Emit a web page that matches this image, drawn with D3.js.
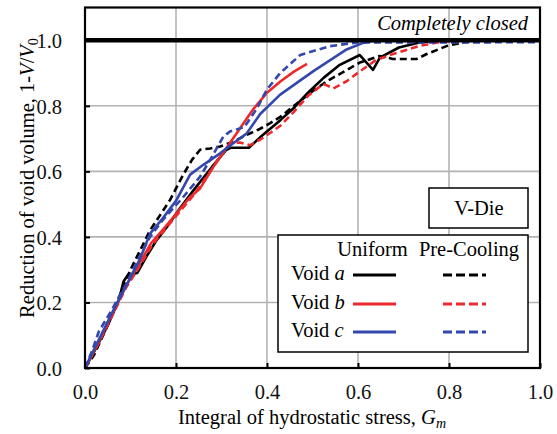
<!DOCTYPE html>
<html><head><meta charset="utf-8">
<script src="https://cdn.jsdelivr.net/npm/d3@7"></script>
<style>body{margin:0;background:#fff}svg{display:block}</style>
</head><body><svg id="c" width="557" height="434"></svg>
<script>
const xTicks = [0, 0.2, 0.4, 0.6, 0.8, 1.0];
const yTicks = [0, 0.2, 0.4, 0.6, 0.8, 1.0];
const seriesNames = ["Void a", "Void b", "Void c"];
const conditions = ["Uniform", "Pre-Cooling"];
const closedLevel = 1.0;

const aUniform = [[0,0],[0.02,0.05],[0.05,0.13],[0.075,0.21],[0.085,0.265],[0.095,0.285],[0.115,0.29],[0.135,0.34],[0.155,0.385],[0.18,0.43],[0.21,0.49],[0.24,0.545],[0.28,0.615],[0.31,0.665],[0.32,0.672],[0.36,0.672],[0.39,0.71],[0.43,0.757],[0.46,0.795],[0.49,0.84],[0.525,0.886],[0.56,0.925],[0.604,0.955],[0.633,0.91],[0.648,0.947],[0.69,0.978],[0.735,0.993],[0.78,1.0],[1.0,1.0]];
const aPreCool = [[0,0],[0.02,0.04],[0.045,0.115],[0.07,0.2],[0.1,0.3],[0.143,0.42],[0.187,0.513],[0.216,0.59],[0.235,0.635],[0.253,0.666],[0.275,0.67],[0.297,0.676],[0.325,0.69],[0.355,0.711],[0.385,0.73],[0.407,0.747],[0.43,0.767],[0.473,0.815],[0.505,0.85],[0.538,0.88],[0.57,0.905],[0.604,0.932],[0.648,0.952],[0.677,0.943],[0.729,0.943],[0.751,0.958],[0.796,0.983],[0.83,0.993],[0.86,1.0],[1.0,1.0]];
const bUniform = [[0,0],[0.03,0.08],[0.06,0.165],[0.09,0.25],[0.12,0.32],[0.145,0.38],[0.17,0.42],[0.2,0.47],[0.23,0.52],[0.253,0.548],[0.285,0.62],[0.319,0.687],[0.345,0.74],[0.37,0.79],[0.4,0.84],[0.43,0.875],[0.46,0.905],[0.488,0.928]];
const bPreCool = [[0,0],[0.03,0.075],[0.06,0.16],[0.09,0.245],[0.12,0.31],[0.15,0.38],[0.18,0.43],[0.21,0.48],[0.24,0.53],[0.27,0.59],[0.3,0.65],[0.319,0.685],[0.34,0.688],[0.363,0.68],[0.385,0.697],[0.41,0.72],[0.43,0.74],[0.458,0.78],[0.49,0.83],[0.524,0.867],[0.546,0.853],[0.575,0.875],[0.604,0.905],[0.64,0.94],[0.677,0.958],[0.736,0.983],[0.774,0.993],[0.82,1.0],[1.0,1.0]];
const cUniform = [[0,0],[0.03,0.085],[0.06,0.17],[0.09,0.25],[0.12,0.33],[0.143,0.41],[0.17,0.455],[0.2,0.51],[0.231,0.59],[0.26,0.62],[0.297,0.655],[0.325,0.685],[0.355,0.715],[0.385,0.775],[0.429,0.834],[0.502,0.906],[0.575,0.972],[0.611,0.992],[0.64,1.0],[1.0,1.0]];
const cPreCool = [[0,0],[0.015,0.05],[0.03,0.11],[0.06,0.18],[0.09,0.255],[0.12,0.34],[0.143,0.4],[0.17,0.45],[0.215,0.52],[0.253,0.584],[0.275,0.635],[0.304,0.706],[0.319,0.722],[0.35,0.735],[0.377,0.79],[0.4,0.85],[0.429,0.9],[0.473,0.955],[0.538,0.982],[0.597,0.993],[1.0,0.994]];

const colors = ["#000000", "#ec2a2c", "#3347ad"];
const series = [
  {data: aUniform, c: 0, dash: false}, {data: aPreCool, c: 0, dash: true},
  {data: bUniform, c: 1, dash: false}, {data: bPreCool, c: 1, dash: true},
  {data: cUniform, c: 2, dash: false}, {data: cPreCool, c: 2, dash: true}
];

const FONT = '"Liberation Serif", Tinos, "DejaVu Serif", serif';
const FS = 20.5;
const svg = d3.select("#c").attr("font-family", FONT);
const L = 85, R = 540, T = 7.5, B = 368;
const x = d3.scaleLinear().domain([0, 1]).range([L, R]);
const y = d3.scaleLinear().domain([0, 1.1]).range([B, T]);

// grid
svg.append("g").selectAll("line").data(xTicks.slice(1, -1)).join("line")
  .attr("x1", d => x(d)).attr("x2", d => x(d)).attr("y1", T).attr("y2", B)
  .attr("stroke", "#b3b3b3").attr("stroke-width", 1.6);
svg.append("g").selectAll("line").data(yTicks.slice(1)).join("line")
  .attr("x1", L).attr("x2", R).attr("y1", d => y(d)).attr("y2", d => y(d))
  .attr("stroke", "#b3b3b3").attr("stroke-width", 1.6);

// axes
const fmt = d3.format(".1f");
const xAxis = svg.append("g").attr("transform", `translate(0,${B})`)
  .call(d3.axisBottom(x).tickValues(xTicks).tickFormat(fmt).tickSizeInner(-5).tickSizeOuter(0).tickPadding(16));
const yAxis = svg.append("g").attr("transform", `translate(${L},0)`)
  .call(d3.axisLeft(y).tickValues(yTicks).tickFormat(fmt).tickSizeInner(-5).tickSizeOuter(0).tickPadding(23));
[xAxis, yAxis].forEach(g => {
  g.attr("font-family", FONT).attr("font-size", FS);
  g.select(".domain").remove();
  g.selectAll(".tick line").attr("stroke", "#000").attr("stroke-width", 2);
  g.selectAll(".tick text").attr("fill", "#111");
});
xAxis.selectAll(".tick text").attr("dy", "0.71em");
yAxis.selectAll(".tick text").attr("dy", "0.36em");

// data lines
const line = d3.line().x(d => x(d[0])).y(d => y(d[1]));
const plot = svg.append("g");
series.forEach(s => {
  plot.append("path").datum(s.data).attr("d", line)
    .attr("fill", "none").attr("stroke", colors[s.c]).attr("stroke-width", 2.6)
    .attr("stroke-linejoin", "round")
    .attr("stroke-dasharray", s.dash ? "7,4" : null);
});

// completely closed line
svg.append("line").attr("x1", L).attr("x2", R).attr("y1", y(closedLevel)).attr("y2", y(closedLevel))
  .attr("stroke", "#000").attr("stroke-width", 4.5);
svg.append("text").attr("x", 528).attr("y", 30).attr("text-anchor", "end")
  .attr("font-size", FS).attr("font-style", "italic").text("Completely closed");

// frame
svg.append("rect").attr("x", L).attr("y", T).attr("width", R - L).attr("height", B - T)
  .attr("fill", "none").attr("stroke", "#000").attr("stroke-width", 2.2);

// V-Die box
svg.append("rect").attr("x", 429).attr("y", 188).attr("width", 99).attr("height", 40)
  .attr("fill", "#fff").attr("stroke", "#000").attr("stroke-width", 1.5);
svg.append("text").attr("x", 479).attr("y", 215).attr("text-anchor", "middle")
  .attr("font-size", FS).text("V-Die");

// legend
const lg = svg.append("g");
lg.append("rect").attr("x", 278).attr("y", 235).attr("width", 250).attr("height", 117)
  .attr("fill", "#fff").attr("stroke", "#000").attr("stroke-width", 1.5);
lg.append("text").attr("x", 372.5).attr("y", 256).attr("text-anchor", "middle").attr("font-size", FS).text(conditions[0]);
lg.append("text").attr("x", 469).attr("y", 256).attr("text-anchor", "middle").attr("font-size", FS).text(conditions[1]);
const rowLine = [275, 304, 332];
seriesNames.forEach((n, i) => {
  const cy = rowLine[i];
  const parts = n.split(" ");
  const t = lg.append("text").attr("x", 291).attr("y", cy + 5).attr("font-size", FS);
  t.append("tspan").text(parts[0] + " ");
  t.append("tspan").attr("font-style", "italic").text(parts[1]);
  lg.append("line").attr("x1", 353).attr("x2", 396).attr("y1", cy).attr("y2", cy)
    .attr("stroke", colors[i]).attr("stroke-width", 3.2);
  lg.append("line").attr("x1", 443).attr("x2", 486).attr("y1", cy).attr("y2", cy)
    .attr("stroke", colors[i]).attr("stroke-width", 3.2).attr("stroke-dasharray", "9,4");
});

// axis titles
const xt = svg.append("text").attr("x", 312).attr("y", 424).attr("text-anchor", "middle").attr("font-size", FS);
xt.append("tspan").text("Integral of hydrostatic stress, ");
xt.append("tspan").attr("font-style", "italic").text("G");
xt.append("tspan").attr("font-style", "italic").attr("font-size", 14).attr("dy", 4).text("m");

const yt = svg.append("text").attr("transform", "translate(34,178) rotate(-90)").attr("text-anchor", "middle").attr("font-size", FS);
yt.append("tspan").text("Reduction of void volume, 1-");
yt.append("tspan").attr("font-style", "italic").text("V");
yt.append("tspan").text("/");
yt.append("tspan").attr("font-style", "italic").text("V");
yt.append("tspan").attr("font-size", 14).attr("dy", 4).text("0");
</script></body></html>
